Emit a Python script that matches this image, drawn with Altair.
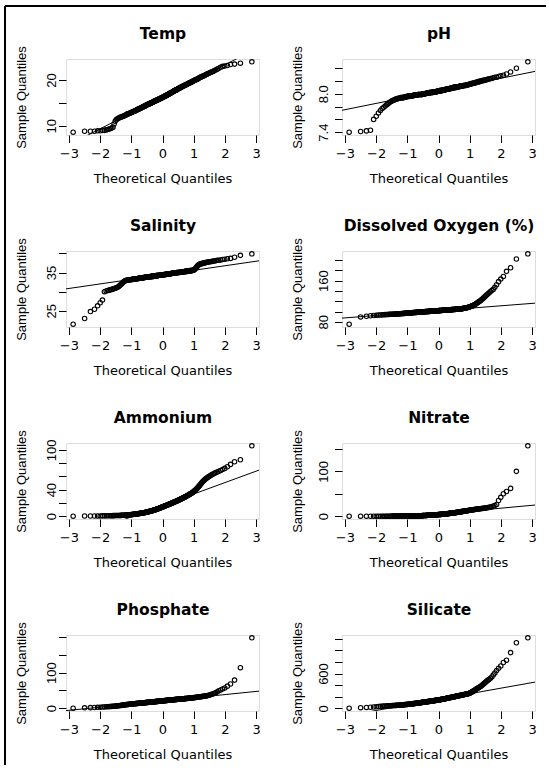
import altair as alt
import numpy as np
import pandas as pd
from statistics import NormalDist

# Sorted sample values for each water-quality variable (240 samples each)
temp = [
    8.6, 8.8, 8.8, 8.8, 8.9, 8.9, 9.0, 9.0, 9.1, 9.2,
    9.3, 9.4, 9.5, 9.7, 10.4, 11.0, 11.3, 11.5, 11.6, 11.7,
    11.8, 11.9, 11.9, 12.0, 12.1, 12.1, 12.2, 12.3, 12.3, 12.4,
    12.5, 12.6, 12.6, 12.7, 12.7, 12.8, 12.8, 12.9, 12.9, 13.0,
    13.0, 13.1, 13.1, 13.2, 13.2, 13.3, 13.3, 13.4, 13.4, 13.5,
    13.5, 13.6, 13.6, 13.7, 13.7, 13.8, 13.8, 13.9, 13.9, 13.9,
    14.0, 14.0, 14.1, 14.1, 14.2, 14.2, 14.2, 14.3, 14.3, 14.4,
    14.4, 14.5, 14.5, 14.6, 14.6, 14.6, 14.7, 14.7, 14.7, 14.8,
    14.8, 14.8, 14.9, 14.9, 15.0, 15.0, 15.0, 15.1, 15.1, 15.1,
    15.2, 15.2, 15.2, 15.3, 15.3, 15.4, 15.4, 15.4, 15.5, 15.5,
    15.5, 15.6, 15.6, 15.6, 15.7, 15.7, 15.7, 15.8, 15.8, 15.8,
    15.9, 15.9, 15.9, 16.0, 16.0, 16.0, 16.1, 16.1, 16.2, 16.2,
    16.2, 16.3, 16.3, 16.3, 16.4, 16.4, 16.4, 16.5, 16.5, 16.6,
    16.6, 16.6, 16.7, 16.7, 16.8, 16.8, 16.8, 16.9, 16.9, 17.0,
    17.0, 17.0, 17.1, 17.1, 17.2, 17.2, 17.3, 17.3, 17.3, 17.4,
    17.4, 17.5, 17.5, 17.6, 17.6, 17.6, 17.7, 17.7, 17.8, 17.8,
    17.8, 17.9, 17.9, 18.0, 18.0, 18.1, 18.1, 18.2, 18.2, 18.2,
    18.3, 18.3, 18.4, 18.4, 18.5, 18.5, 18.6, 18.6, 18.7, 18.7,
    18.7, 18.8, 18.8, 18.9, 18.9, 19.0, 19.0, 19.1, 19.1, 19.2,
    19.2, 19.3, 19.3, 19.4, 19.4, 19.5, 19.5, 19.6, 19.6, 19.7,
    19.8, 19.8, 19.9, 19.9, 20.0, 20.1, 20.1, 20.2, 20.2, 20.3,
    20.4, 20.5, 20.6, 20.6, 20.7, 20.8, 20.9, 20.9, 21.0, 21.1,
    21.2, 21.3, 21.4, 21.5, 21.6, 21.7, 21.8, 21.9, 22.1, 22.2,
    22.4, 22.6, 22.8, 23.0, 23.1, 23.2, 23.4, 23.5, 23.7, 24.0,
]

ph = [
    7.40, 7.41, 7.42, 7.43, 7.60, 7.65, 7.70, 7.74, 7.77, 7.79,
    7.81, 7.83, 7.84, 7.86, 7.87, 7.88, 7.89, 7.90, 7.90, 7.91,
    7.92, 7.92, 7.92, 7.93, 7.93, 7.93, 7.93, 7.94, 7.94, 7.94,
    7.94, 7.94, 7.95, 7.95, 7.95, 7.95, 7.95, 7.96, 7.96, 7.96,
    7.96, 7.96, 7.96, 7.97, 7.97, 7.97, 7.97, 7.97, 7.97, 7.97,
    7.97, 7.98, 7.98, 7.98, 7.98, 7.98, 7.98, 7.98, 7.98, 7.98,
    7.98, 7.99, 7.99, 7.99, 7.99, 7.99, 7.99, 7.99, 7.99, 7.99,
    7.99, 7.99, 7.99, 8.00, 8.00, 8.00, 8.00, 8.00, 8.00, 8.00,
    8.00, 8.00, 8.01, 8.01, 8.01, 8.01, 8.01, 8.01, 8.01, 8.01,
    8.01, 8.01, 8.02, 8.02, 8.02, 8.02, 8.02, 8.02, 8.02, 8.02,
    8.02, 8.02, 8.02, 8.03, 8.03, 8.03, 8.03, 8.03, 8.03, 8.03,
    8.03, 8.03, 8.03, 8.03, 8.04, 8.04, 8.04, 8.04, 8.04, 8.04,
    8.04, 8.04, 8.04, 8.05, 8.05, 8.05, 8.05, 8.05, 8.05, 8.05,
    8.05, 8.05, 8.06, 8.06, 8.06, 8.06, 8.06, 8.06, 8.06, 8.06,
    8.06, 8.07, 8.07, 8.07, 8.07, 8.07, 8.07, 8.07, 8.07, 8.08,
    8.08, 8.08, 8.08, 8.08, 8.08, 8.08, 8.09, 8.09, 8.09, 8.09,
    8.09, 8.09, 8.09, 8.09, 8.10, 8.10, 8.10, 8.10, 8.10, 8.10,
    8.10, 8.10, 8.11, 8.11, 8.11, 8.11, 8.11, 8.11, 8.11, 8.11,
    8.12, 8.12, 8.12, 8.12, 8.12, 8.12, 8.12, 8.12, 8.13, 8.13,
    8.13, 8.13, 8.13, 8.13, 8.13, 8.14, 8.14, 8.14, 8.14, 8.14,
    8.15, 8.15, 8.15, 8.15, 8.16, 8.16, 8.16, 8.16, 8.17, 8.17,
    8.17, 8.17, 8.18, 8.18, 8.18, 8.19, 8.19, 8.19, 8.20, 8.20,
    8.20, 8.21, 8.21, 8.21, 8.22, 8.22, 8.23, 8.23, 8.24, 8.24,
    8.25, 8.26, 8.26, 8.27, 8.28, 8.29, 8.31, 8.34, 8.40, 8.50,
]

salinity = [
    21.5, 23.0, 24.8, 25.4, 26.3, 27.1, 27.8, 30.0, 30.2, 30.3,
    30.4, 30.5, 30.6, 30.7, 30.8, 30.9, 31.0, 31.1, 31.2, 31.4,
    31.6, 31.8, 32.0, 32.2, 32.4, 32.6, 32.7, 32.8, 32.9, 33.0,
    33.0, 33.0, 33.0, 33.1, 33.1, 33.1, 33.1, 33.2, 33.2, 33.2,
    33.2, 33.3, 33.3, 33.3, 33.3, 33.3, 33.4, 33.4, 33.4, 33.4,
    33.4, 33.4, 33.5, 33.5, 33.5, 33.5, 33.5, 33.6, 33.6, 33.6,
    33.6, 33.6, 33.6, 33.6, 33.7, 33.7, 33.7, 33.7, 33.7, 33.7,
    33.8, 33.8, 33.8, 33.8, 33.8, 33.8, 33.8, 33.9, 33.9, 33.9,
    33.9, 33.9, 33.9, 33.9, 33.9, 34.0, 34.0, 34.0, 34.0, 34.0,
    34.0, 34.0, 34.0, 34.1, 34.1, 34.1, 34.1, 34.1, 34.1, 34.1,
    34.2, 34.2, 34.2, 34.2, 34.2, 34.2, 34.2, 34.2, 34.3, 34.3,
    34.3, 34.3, 34.3, 34.3, 34.3, 34.3, 34.4, 34.4, 34.4, 34.4,
    34.4, 34.4, 34.4, 34.4, 34.5, 34.5, 34.5, 34.5, 34.5, 34.5,
    34.5, 34.5, 34.6, 34.6, 34.6, 34.6, 34.6, 34.6, 34.6, 34.6,
    34.7, 34.7, 34.7, 34.7, 34.7, 34.7, 34.7, 34.8, 34.8, 34.8,
    34.8, 34.8, 34.8, 34.8, 34.9, 34.9, 34.9, 34.9, 34.9, 34.9,
    34.9, 34.9, 35.0, 35.0, 35.0, 35.0, 35.0, 35.0, 35.0, 35.0,
    35.1, 35.1, 35.1, 35.1, 35.1, 35.1, 35.2, 35.2, 35.2, 35.2,
    35.2, 35.2, 35.2, 35.3, 35.3, 35.3, 35.3, 35.3, 35.3, 35.4,
    35.4, 35.4, 35.4, 35.4, 35.5, 35.5, 35.5, 35.5, 35.5, 35.6,
    35.6, 35.6, 35.7, 35.8, 35.9, 36.1, 36.3, 36.5, 36.7, 36.9,
    37.0, 37.1, 37.2, 37.3, 37.3, 37.4, 37.4, 37.5, 37.5, 37.6,
    37.6, 37.7, 37.7, 37.8, 37.8, 37.9, 37.9, 38.0, 38.0, 38.1,
    38.2, 38.2, 38.3, 38.4, 38.5, 38.6, 38.7, 39.0, 39.5, 39.9,
]

oxygen = [
    75.5, 89.6, 91.0, 91.8, 92.4, 92.8, 93.1, 93.4, 93.6, 93.8,
    94.0, 94.2, 94.3, 94.5, 94.6, 94.7, 94.8, 94.9, 95.0, 95.1,
    95.2, 95.3, 95.4, 95.5, 95.6, 95.7, 95.8, 95.9, 96.0, 96.1,
    96.2, 96.3, 96.4, 96.5, 96.6, 96.7, 96.8, 96.9, 97.0, 97.1,
    97.2, 97.3, 97.4, 97.4, 97.5, 97.6, 97.7, 97.7, 97.8, 97.9,
    98.0, 98.0, 98.1, 98.2, 98.2, 98.3, 98.4, 98.4, 98.5, 98.6,
    98.6, 98.7, 98.8, 98.8, 98.9, 98.9, 99.0, 99.1, 99.1, 99.2,
    99.2, 99.3, 99.4, 99.4, 99.5, 99.5, 99.6, 99.6, 99.7, 99.7,
    99.8, 99.8, 99.9, 99.9, 100.0, 100.0, 100.1, 100.1, 100.2, 100.2,
    100.3, 100.3, 100.4, 100.4, 100.5, 100.5, 100.6, 100.6, 100.7, 100.7,
    100.8, 100.8, 100.9, 100.9, 101.0, 101.0, 101.1, 101.1, 101.2, 101.2,
    101.3, 101.3, 101.4, 101.4, 101.5, 101.5, 101.6, 101.6, 101.7, 101.7,
    101.8, 101.8, 101.9, 101.9, 102.0, 102.0, 102.1, 102.1, 102.2, 102.2,
    102.3, 102.3, 102.4, 102.4, 102.5, 102.5, 102.6, 102.6, 102.7, 102.7,
    102.8, 102.8, 102.9, 102.9, 103.0, 103.0, 103.1, 103.1, 103.2, 103.2,
    103.3, 103.3, 103.4, 103.4, 103.5, 103.5, 103.6, 103.6, 103.7, 103.7,
    103.8, 103.8, 103.9, 103.9, 104.0, 104.0, 104.1, 104.2, 104.2, 104.3,
    104.3, 104.4, 104.4, 104.5, 104.6, 104.6, 104.7, 104.7, 104.8, 104.9,
    105.0, 105.1, 105.2, 105.3, 105.4, 105.5, 105.7, 105.8, 105.9, 106.1,
    106.3, 106.5, 106.7, 106.9, 107.1, 107.3, 107.5, 107.8, 108.0, 108.3,
    108.6, 109.0, 109.4, 109.8, 110.2, 110.6, 111.0, 111.5, 112.0, 112.6,
    113.5, 114.3, 115.2, 116.0, 117.0, 118.0, 118.9, 120.0, 121.0, 122.2,
    123.8, 125.3, 127.0, 128.8, 130.6, 132.5, 134.5, 136.6, 138.8, 141.0,
    143.0, 147.0, 152.0, 158.0, 163.0, 168.0, 178.0, 185.0, 202.0, 212.0,
]

ammonium = [
    0.0, 0.2, 0.3, 0.3, 0.4, 0.4, 0.5, 0.5, 0.5, 0.6,
    0.6, 0.7, 0.7, 0.8, 0.8, 0.9, 0.9, 1.0, 1.0, 1.1,
    1.1, 1.2, 1.2, 1.3, 1.3, 1.4, 1.5, 1.5, 1.6, 1.7,
    1.7, 1.8, 1.9, 2.0, 2.0, 2.1, 2.2, 2.3, 2.4, 2.5,
    2.6, 2.7, 2.8, 2.9, 3.0, 3.1, 3.2, 3.3, 3.4, 3.5,
    3.6, 3.7, 3.8, 3.9, 4.0, 4.1, 4.2, 4.3, 4.4, 4.5,
    4.6, 4.7, 4.8, 4.9, 5.0, 5.1, 5.2, 5.4, 5.5, 5.6,
    5.7, 5.8, 6.0, 6.1, 6.2, 6.4, 6.5, 6.6, 6.8, 6.9,
    7.0, 7.2, 7.3, 7.5, 7.6, 7.8, 7.9, 8.1, 8.2, 8.4,
    8.5, 8.7, 8.8, 9.0, 9.2, 9.3, 9.5, 9.7, 9.8, 10.0,
    10.2, 10.4, 10.5, 10.7, 10.9, 11.1, 11.3, 11.4, 11.6, 11.8,
    12.0, 12.2, 12.4, 12.6, 12.8, 13.0, 13.2, 13.4, 13.6, 13.8,
    14.0, 14.2, 14.4, 14.6, 14.8, 15.0, 15.2, 15.4, 15.6, 15.8,
    16.0, 16.2, 16.4, 16.6, 16.8, 17.0, 17.2, 17.4, 17.6, 17.8,
    18.0, 18.2, 18.4, 18.6, 18.8, 19.0, 19.3, 19.5, 19.7, 19.9,
    20.1, 20.4, 20.6, 20.8, 21.0, 21.3, 21.5, 21.7, 22.0, 22.2,
    22.4, 22.7, 22.9, 23.2, 23.4, 23.7, 23.9, 24.2, 24.4, 24.7,
    25.0, 25.3, 25.6, 25.9, 26.2, 26.5, 26.8, 27.1, 27.4, 27.7,
    28.0, 28.3, 28.7, 29.0, 29.4, 29.7, 30.1, 30.4, 30.8, 31.2,
    31.6, 32.0, 32.4, 32.8, 33.2, 33.7, 34.1, 34.6, 35.0, 35.5,
    36.0, 36.7, 37.4, 38.2, 39.0, 39.8, 40.7, 41.6, 42.5, 43.5,
    44.6, 45.8, 47.0, 48.3, 49.6, 51.0, 52.3, 53.5, 54.6, 55.6,
    56.6, 57.6, 58.6, 59.6, 60.6, 61.6, 62.6, 63.6, 64.6, 65.6,
    66.6, 67.6, 68.8, 70.2, 72.0, 74.5, 78.0, 82.0, 85.0, 106.0,
]

nitrate = [
    0.0, 0.0, 0.0, 0.0, 0.0, 0.0, 0.0, 0.0, 0.0, 0.0,
    0.0, 0.0, 0.0, 0.0, 0.0, 0.0, 0.1, 0.1, 0.1, 0.1,
    0.1, 0.1, 0.1, 0.1, 0.1, 0.2, 0.2, 0.2, 0.2, 0.2,
    0.2, 0.2, 0.2, 0.3, 0.3, 0.3, 0.3, 0.3, 0.3, 0.3,
    0.4, 0.4, 0.4, 0.4, 0.4, 0.4, 0.5, 0.5, 0.5, 0.5,
    0.5, 0.5, 0.6, 0.6, 0.6, 0.6, 0.6, 0.7, 0.7, 0.7,
    0.7, 0.8, 0.8, 0.8, 0.9, 0.9, 0.9, 1.0, 1.0, 1.0,
    1.1, 1.1, 1.2, 1.2, 1.3, 1.3, 1.4, 1.4, 1.5, 1.5,
    1.6, 1.6, 1.7, 1.7, 1.8, 1.8, 1.9, 1.9, 2.0, 2.0,
    2.1, 2.1, 2.2, 2.2, 2.3, 2.3, 2.4, 2.4, 2.5, 2.5,
    2.6, 2.6, 2.7, 2.7, 2.8, 2.8, 2.9, 2.9, 3.0, 3.0,
    3.1, 3.1, 3.2, 3.2, 3.3, 3.3, 3.4, 3.4, 3.5, 3.5,
    3.6, 3.6, 3.7, 3.8, 3.8, 3.9, 4.0, 4.0, 4.1, 4.2,
    4.2, 4.3, 4.4, 4.5, 4.5, 4.6, 4.7, 4.8, 4.8, 4.9,
    5.0, 5.1, 5.2, 5.3, 5.3, 5.4, 5.5, 5.6, 5.7, 5.8,
    5.9, 6.0, 6.1, 6.2, 6.3, 6.4, 6.5, 6.6, 6.7, 6.8,
    6.9, 7.0, 7.1, 7.2, 7.4, 7.5, 7.6, 7.7, 7.8, 8.0,
    8.1, 8.2, 8.4, 8.5, 8.6, 8.8, 8.9, 9.0, 9.2, 9.3,
    9.5, 9.6, 9.8, 9.9, 10.1, 10.2, 10.4, 10.5, 10.7, 10.9,
    11.0, 11.2, 11.4, 11.5, 11.7, 11.9, 12.1, 12.3, 12.5, 12.7,
    12.9, 13.1, 13.3, 13.5, 13.7, 13.9, 14.1, 14.3, 14.5, 14.7,
    15.0, 15.2, 15.4, 15.6, 15.8, 16.0, 16.3, 16.5, 16.7, 17.0,
    17.2, 17.5, 17.8, 18.1, 18.4, 18.8, 19.2, 19.7, 20.3, 21.0,
    22.5, 24.0, 26.0, 35.0, 42.0, 50.0, 55.0, 62.0, 100.0, 157.0,
]

phosphate = [
    0.0, 1.0, 1.5, 2.0, 2.4, 2.8, 3.2, 3.5, 3.8, 4.1,
    4.4, 4.7, 5.0, 5.3, 5.6, 5.9, 6.2, 6.5, 6.8, 7.1,
    7.4, 7.7, 8.0, 8.3, 8.6, 8.9, 9.2, 9.5, 9.8, 10.0,
    10.2, 10.4, 10.6, 10.8, 11.0, 11.2, 11.4, 11.6, 11.7, 11.9,
    12.0, 12.1, 12.3, 12.4, 12.6, 12.7, 12.9, 13.0, 13.2, 13.3,
    13.4, 13.5, 13.7, 13.8, 13.9, 14.0, 14.2, 14.3, 14.4, 14.5,
    14.6, 14.7, 14.8, 14.9, 15.0, 15.2, 15.3, 15.4, 15.5, 15.6,
    15.7, 15.8, 15.9, 16.0, 16.1, 16.2, 16.3, 16.4, 16.5, 16.6,
    16.7, 16.8, 16.9, 17.0, 17.1, 17.2, 17.3, 17.4, 17.5, 17.6,
    17.7, 17.8, 17.9, 18.0, 18.1, 18.2, 18.3, 18.4, 18.5, 18.6,
    18.7, 18.8, 18.9, 19.0, 19.1, 19.2, 19.2, 19.3, 19.4, 19.5,
    19.6, 19.7, 19.8, 19.9, 20.0, 20.1, 20.2, 20.3, 20.4, 20.5,
    20.6, 20.7, 20.8, 20.9, 21.0, 21.1, 21.2, 21.3, 21.4, 21.5,
    21.6, 21.7, 21.8, 21.9, 22.0, 22.1, 22.2, 22.3, 22.4, 22.4,
    22.5, 22.6, 22.7, 22.8, 22.9, 23.0, 23.1, 23.2, 23.3, 23.4,
    23.5, 23.6, 23.7, 23.8, 23.9, 24.0, 24.1, 24.2, 24.3, 24.4,
    24.5, 24.6, 24.7, 24.8, 24.9, 25.0, 25.1, 25.2, 25.3, 25.4,
    25.5, 25.6, 25.7, 25.8, 25.9, 26.0, 26.1, 26.2, 26.3, 26.5,
    26.6, 26.7, 26.8, 26.9, 27.0, 27.2, 27.3, 27.4, 27.5, 27.7,
    27.8, 27.9, 28.1, 28.2, 28.4, 28.5, 28.6, 28.8, 28.9, 29.1,
    29.3, 29.5, 29.7, 29.9, 30.1, 30.3, 30.5, 30.7, 30.9, 31.1,
    31.4, 31.7, 32.0, 32.3, 32.6, 32.9, 33.2, 33.5, 33.8, 34.2,
    34.6, 35.2, 35.8, 36.5, 37.3, 38.2, 39.2, 40.4, 41.8, 43.5,
    46.0, 49.0, 51.0, 54.0, 57.0, 62.0, 68.0, 79.0, 114.0, 198.0,
]

silicate = [
    3, 12, 16, 20, 24, 28, 31, 34, 36, 38,
    40, 41, 43, 44, 45, 46, 47, 48, 49, 50,
    51, 52, 53, 54, 55, 56, 57, 58, 59, 60,
    61, 62, 63, 64, 65, 66, 67, 68, 69, 70,
    71, 72, 73, 74, 75, 76, 77, 78, 79, 80,
    81, 82, 83, 84, 85, 86, 87, 88, 89, 90,
    91, 92, 93, 94, 95, 96, 97, 98, 99, 100,
    101, 102, 103, 104, 105, 105, 106, 107, 108, 109,
    110, 111, 112, 112, 113, 114, 115, 116, 117, 118,
    119, 120, 120, 121, 122, 123, 124, 125, 126, 127,
    128, 128, 129, 130, 131, 132, 133, 134, 135, 136,
    136, 137, 138, 139, 140, 141, 141, 142, 143, 144,
    145, 146, 147, 148, 149, 150, 151, 152, 154, 155,
    156, 157, 158, 159, 160, 162, 163, 164, 165, 166,
    167, 169, 170, 171, 172, 173, 175, 176, 177, 178,
    180, 181, 182, 183, 185, 186, 187, 188, 190, 191,
    192, 194, 195, 196, 198, 199, 200, 202, 203, 205,
    206, 208, 209, 211, 212, 214, 215, 217, 218, 220,
    221, 223, 224, 226, 228, 229, 231, 232, 234, 235,
    237, 239, 241, 242, 244, 246, 248, 250, 252, 254,
    257, 261, 265, 270, 275, 280, 286, 292, 298, 305,
    312, 320, 328, 336, 344, 352, 360, 368, 376, 385,
    398, 412, 426, 440, 455, 470, 486, 502, 520, 540,
    575, 610, 650, 690, 730, 790, 830, 960, 1130, 1215,
]

# Panel titles, y tick positions, which ticks carry a label, label format
titles = ["Temp", "pH", "Salinity", "Dissolved Oxygen (%)",
          "Ammonium", "Nitrate", "Phosphate", "Silicate"]
series = [temp, ph, salinity, oxygen, ammonium, nitrate, phosphate, silicate]
y_ticks = [
    [10, 15, 20],
    [7.4, 7.6, 7.8, 8.0, 8.2, 8.4],
    [25, 30, 35, 40],
    [80, 100, 120, 140, 160, 180, 200],
    [0, 20, 40, 60, 80, 100],
    [0, 50, 100, 150],
    [0, 50, 100, 150, 200],
    [0, 200, 400, 600, 800, 1000, 1200],
]
y_labelled = [
    [10, 20], [7.4, 8.0], [25, 35], [80, 160],
    [0, 40, 100], [0, 100], [0, 100], [0, 600],
]
y_formats = ["d", ".1f", "d", "d", "d", "d", "d", "d"]
x_ticks = [-3, -2, -1, 0, 1, 2, 3]

W, H = 193, 76
norm = NormalDist()


def qq_panel(title, values, ticks, labelled, fmt, label_pad, title_pad):
    n = len(values)
    lo, hi = min(values), max(values)
    ypad = 0.04 * (hi - lo)
    ydom = [lo - ypad, hi + ypad]
    qmax = norm.inv_cdf(1 - 0.5 / n)
    xdom = [-1.08 * qmax, 1.08 * qmax]

    # reference line through the first and third quartiles
    q1, q3 = np.quantile(values, [0.25, 0.75])
    z = norm.inv_cdf(0.75)
    slope = (q3 - q1) / (2 * z)
    icpt = (q1 + q3) / 2
    line_df = pd.DataFrame({"theo": xdom, "value": [icpt + slope * x for x in xdom]})

    x_scale = alt.Scale(domain=xdom, nice=False, zero=False)
    y_scale = alt.Scale(domain=ydom, nice=False, zero=False)

    x_axis = alt.Axis(
        values=x_ticks, format="d", grid=False, domain=False,
        tickSize=7.5, tickColor="black", tickWidth=1,
        labelFont="DejaVu Sans", labelFontSize=13, labelColor="black",
        labelPadding=4.5, labelFlush=False, labelOverlap=False,
        labelAlign="center", labelBaseline="top",
        title="Theoretical Quantiles", titleFont="DejaVu Sans", titleFontSize=13,
        titleFontWeight="normal", titleColor="black",
        titleBaseline="top", titleAlign="center", titlePadding=12,
    )
    # top axis carries only the panel heading
    head_axis = alt.Axis(
        orient="top", labels=False, ticks=False, domain=False, grid=False,
        title=title, titleFont="DejaVu Sans", titleFontSize=15.5,
        titleFontWeight="bold", titleColor="black",
        titleBaseline="bottom", titleAlign="center", titlePadding=17.5,
    )
    y_axis = alt.Axis(
        values=ticks, format=fmt, grid=False, domain=False,
        labelExpr=f"indexof({labelled}, datum.value) >= 0 ? datum.label : ''",
        tickSize=7.5, tickColor="black", tickWidth=1,
        labelFont="Liberation Sans", labelFontSize=13, labelColor="black",
        labelAngle=270, labelAlign="center", labelBaseline="alphabetic",
        labelPadding=label_pad, labelOverlap=False, labelFlush=False,
        title="Sample Quantiles", titleFont="Liberation Sans", titleFontSize=13,
        titleFontWeight="normal", titleColor="black", titleAngle=270,
        titleBaseline="bottom", titleAlign="center", titlePadding=title_pad,
    )

    points = (
        alt.Chart(pd.DataFrame({"value": values}))
        .transform_window(rank="row_number()", sort=[alt.SortField("value", order="ascending")])
        .transform_joinaggregate(n="count()")
        .transform_calculate(theo="quantileNormal((datum.rank - 0.5) / datum.n)")
        .mark_point(shape="circle", filled=False, size=20, strokeWidth=1.1,
                    color="black", opacity=1)
        .encode(x=alt.X("theo:Q", scale=x_scale, axis=x_axis),
                y=alt.Y("value:Q", scale=y_scale, axis=y_axis))
    )
    ref = (
        alt.Chart(line_df)
        .mark_line(color="black", strokeWidth=1, clip=True)
        .encode(x=alt.X("theo:Q", scale=x_scale, axis=head_axis),
                y=alt.Y("value:Q", scale=y_scale, axis=y_axis))
    )
    return (
        alt.layer(points, ref)
        .resolve_axis(x="independent")
        .properties(width=W, height=H)
    )


panels = [
    qq_panel(titles[i], series[i], y_ticks[i], y_labelled[i], y_formats[i],
             3 if i % 2 == 0 else 7, 17.5 if i % 2 == 0 else 13.5)
    for i in range(8)
]
grid = alt.concat(*panels, columns=2, spacing={"row": 116, "column": 83}, bounds="flush")

# page frame: a left rule and a top rule, drawn from a thin view beside the grid
frame_df = pd.DataFrame({"k": [0]})
left_rule = alt.Chart(frame_df).mark_rule(color="black", strokeWidth=2).encode(
    x=alt.value(0), y=alt.value(-53), y2=alt.value(706))
top_rule = alt.Chart(frame_df).mark_rule(color="black", strokeWidth=2).encode(
    x=alt.value(0), x2=alt.value(541), y=alt.value(-53))
frame = alt.layer(left_rule, top_rule).properties(
    width=1, height=H, view=alt.ViewBackground(stroke="transparent"))

chart = (
    alt.hconcat(frame, grid, spacing=60, bounds="flush")
    .properties(padding={"left": 3, "top": 4, "right": 0, "bottom": 0})
    .configure_view(stroke="black", strokeWidth=1)
    .configure(background="white")
)

chart.save("out.html", embed_options={"renderer": "svg", "actions": False})
